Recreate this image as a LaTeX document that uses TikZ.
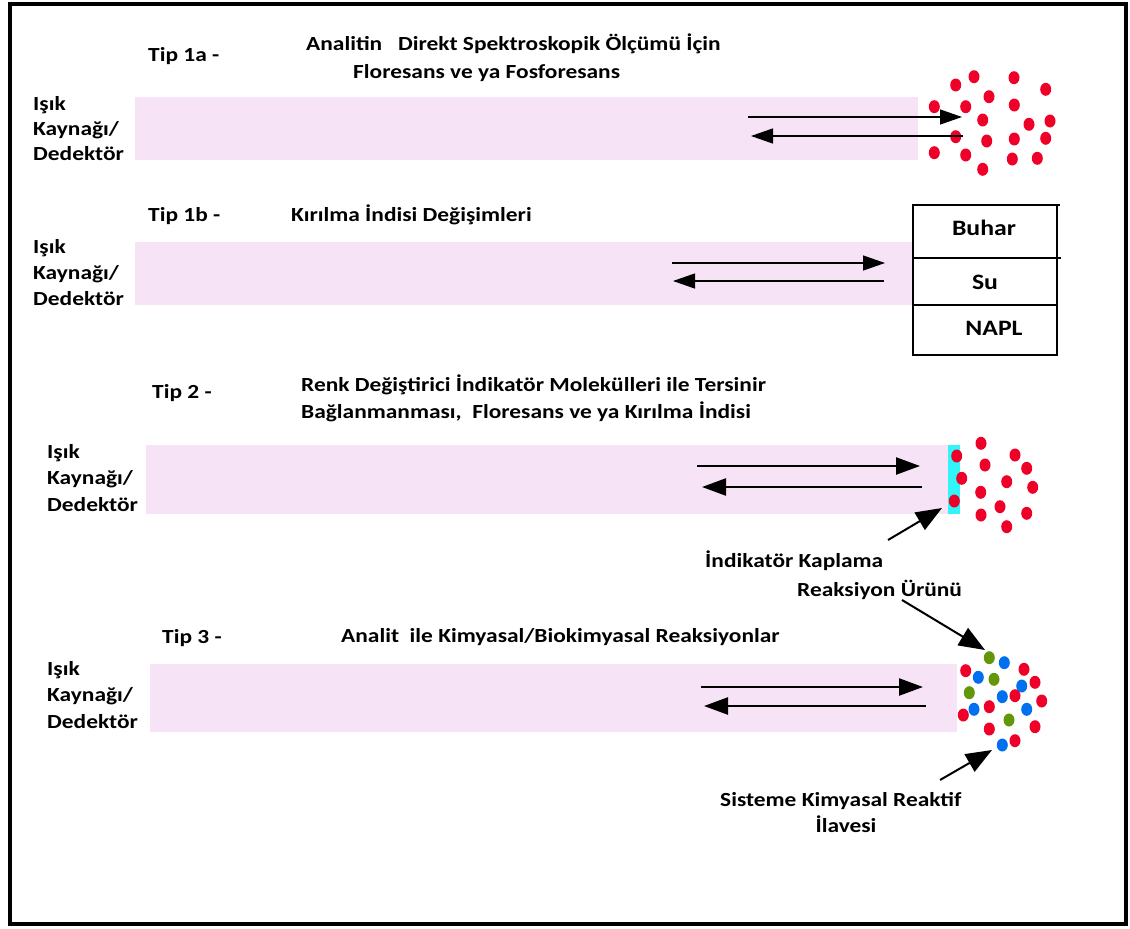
\documentclass[tikz,border=0pt]{standalone}
\usepackage{fontspec}
\setmainfont{Carlito}[FakeStretch=1.17]
\usetikzlibrary{arrows.meta,shapes.geometric}
\definecolor{bandpink}{RGB}{246,228,246}
\definecolor{dotred}{RGB}{238,0,40}
\definecolor{dotblue}{RGB}{0,112,240}
\definecolor{dotgreen}{RGB}{100,150,10}
\definecolor{coat}{RGB}{50,245,250}
\tikzset{
  lbl/.style={anchor=base west, inner sep=0pt, font=\fontsize{20}{24}\selectfont\bfseries},
  lblc/.style={anchor=base, inner sep=0pt, font=\fontsize{20}{24}\selectfont\bfseries},
  boxlbl/.style={anchor=base, inner sep=0pt, font=\fontsize{22}{26}\selectfont\bfseries},
  band/.style={fill=bandpink, draw=none},
  thinarr/.style={line width=1.3pt, -{Triangle[length=22pt,width=15pt]}},
  thickarr/.style={line width=2.4pt, -{Triangle[length=24pt,width=17pt]}},
  callout/.style={line width=2pt, -{Triangle[length=26pt,width=20pt]}},
  dot/.style={draw=none, inner sep=0pt, minimum width=11pt, minimum height=13pt, shape=ellipse},
}
\newcommand{\rdot}[2]{\node[dot, fill=dotred] at (#1,#2) {};}
\newcommand{\bdot}[2]{\node[dot, fill=dotblue] at (#1,#2) {};}
\newcommand{\gdot}[2]{\node[dot, fill=dotgreen] at (#1,#2) {};}
\newcommand{\isik}[3]{%
  \node[lbl] at (#1,#2) {Işık};
  \node[lbl] at (#1,#2+#3) {Kaynağı/};
  \node[lbl] at (#1,#2+2*#3) {Dedektör};}
\begin{document}
\begin{tikzpicture}[x=1pt,y=-1pt]
\useasboundingbox (0,0) rectangle (1130,929);
% frame
\draw[line width=4pt] (10,3.5) -- (1126,3.5) -- (1126,924) -- (10,924) -- cycle;

% ---------- Tip 1a
\fill[band] (135,97) rectangle (918,160);
\node[lbl] (t1a) at (148,61) {Tip 1a -};
\node[lbl] (h1a) at (306,50) {Analitin~~ Direkt Spektroskopik Ölçümü İçin};
\node[lbl] (h1a2) at (353,78) {Floresans ve ya Fosforesans};
\isik{33}{110}{25}
\foreach \x/\y in {955.7/85,974/76.7,1014/77.7,1045.7/89.3,934.3/106.7,965.7/106.7,989/96.7,1014.3/105,982.7/120,1029/124.3,1050/121,955.7/136.7,986.7/141,1014.3/139,1045.7/138.3,934.3/152.7,965.7/155,982.7/169.3,1012.3/159,1037.3/158.3}
  {\rdot{\x}{\y}}
\coordinate (a1s) at (748,117); \coordinate (a1e) at (962,117);
\coordinate (b1s) at (963,136); \coordinate (b1e) at (751,136);
\draw[thinarr] (a1s) -- (a1e);
\draw[thinarr] (b1s) -- (b1e);

% ---------- Tip 1b
\fill[band] (135,242) rectangle (913,305);
\node[lbl] (t1b) at (148,221) {Tip 1b -};
\node[lbl] (h1b) at (291,221) {Kırılma İndisi Değişimleri};
\isik{33}{253}{26}
\draw[line width=1.2pt] (913,205) rectangle (1057,355);
\draw[line width=1.2pt] (913,258) -- (1061,258);
\draw[line width=1.2pt] (913,305) -- (1057,305);
\draw[line width=1.2pt] (1057,205) -- (1060,205);
\node[boxlbl] (buhar) at (984,235) {Buhar};
\node[boxlbl] (su) at (985,289) {Su};
\node[boxlbl] (napl) at (994,335) {NAPL};
\coordinate (a2s) at (672,263); \coordinate (a2e) at (885,263);
\coordinate (b2s) at (884,281); \coordinate (b2e) at (673,281);
\draw[thinarr] (a2s) -- (a2e);
\draw[thinarr] (b2s) -- (b2e);

% ---------- Tip 2
\fill[band] (146,445) rectangle (948,514);
\fill[coat] (948,445) rectangle (960,514);
\node[lbl] (t2) at (152,398) {Tip 2 -};
\node[lbl] (h2) at (301,391) {Renk Değiştirici İndikatör Molekülleri ile Tersinir};
\node[lbl] (h22) at (301,418) {Bağlanmanması,~ Floresans ve ya Kırılma İndisi};
\isik{47}{458}{26.5}
\foreach \x/\y in {981/443.3,956.7/456,1015/455,985/465,1026.7/468.3,961.7/478.3,1006.7/481.7,1032.7/487.3,980.7/492.3,954.3/501,1000/506.7,1026.7/513.3,981/515,1006.7/526.7}
  {\rdot{\x}{\y}}
\coordinate (a3s) at (697,466); \coordinate (a3e) at (920,466);
\coordinate (b3s) at (922,487); \coordinate (b3e) at (702,487);
\draw[thickarr] (a3s) -- (a3e);
\draw[thickarr] (b3s) -- (b3e);
\node[lbl] (ind) at (705,567) {İndikatör Kaplama};
\node[lbl] (rea) at (797,596) {Reaksiyon Ürünü};
\coordinate (indA) at (888,540); \coordinate (indB) at (942,508);
\draw[callout] (indA) -- (indB);

% ---------- Tip 3
\fill[band] (150,664) rectangle (957,732);
\node[lbl] (t3) at (162,643) {Tip 3 -};
\node[lbl] (h3) at (341,642) {Analit~ ile Kimyasal/Biokimyasal Reaksiyonlar};
\isik{47}{675}{26.5}
\foreach \x/\y in {965.7/670.7,1024/669.3,1035/682.3,1015/695.7,1041.7/701,963.3/715,989.3/706.7,989.3/729,1035/726.7,1015/740.7}
  {\rdot{\x}{\y}}
\foreach \x/\y in {1004.3/662.7,978.3/677.3,1021.7/686,1002.3/696.7,974/709.3,1026.7/709.3,1002.3/745}
  {\bdot{\x}{\y}}
\foreach \x/\y in {989.3/657.7,994/679.3,969.3/692.7,1009/720}
  {\gdot{\x}{\y}}
\coordinate (a4s) at (701,687); \coordinate (a4e) at (923,687);
\coordinate (b4s) at (926,706); \coordinate (b4e) at (704,706);
\draw[thickarr] (a4s) -- (a4e);
\draw[thickarr] (b4s) -- (b4e);
\coordinate (reaA) at (902,600); \coordinate (reaB) at (985,650);
\draw[callout] (reaA) -- (reaB);
\node[lbl] (sis) at (720,806) {Sisteme Kimyasal Reaktif};
\node[lblc] (ila) at (846,832) {İlavesi};
\coordinate (sisA) at (940,780); \coordinate (sisB) at (992,750);
\draw[callout] (sisA) -- (sisB);
\end{tikzpicture}
\end{document}
